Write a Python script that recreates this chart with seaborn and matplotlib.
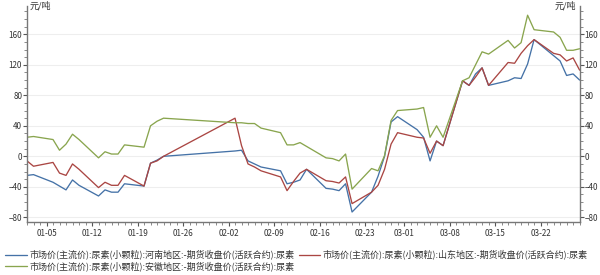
import seaborn as sns
import pandas as pd
import matplotlib
matplotlib.use("Agg")
from matplotlib import pyplot as plt
import matplotlib.dates as mdates
from matplotlib.ticker import MultipleLocator

# trading days
dates = ["2025-01-02", "2025-01-03", "2025-01-06", "2025-01-07", "2025-01-08", "2025-01-09", "2025-01-10",
         "2025-01-13", "2025-01-14", "2025-01-15", "2025-01-16", "2025-01-17",
         "2025-01-20", "2025-01-21", "2025-01-22", "2025-01-23",
         "2025-02-03", "2025-02-04", "2025-02-05", "2025-02-06", "2025-02-07",
         "2025-02-10", "2025-02-11", "2025-02-12", "2025-02-13", "2025-02-14",
         "2025-02-17", "2025-02-18", "2025-02-19", "2025-02-20", "2025-02-21",
         "2025-02-24", "2025-02-25", "2025-02-26", "2025-02-27", "2025-02-28",
         "2025-03-03", "2025-03-04", "2025-03-05", "2025-03-06", "2025-03-07",
         "2025-03-10", "2025-03-11", "2025-03-12", "2025-03-13", "2025-03-14",
         "2025-03-17", "2025-03-18", "2025-03-19", "2025-03-20", "2025-03-21",
         "2025-03-24", "2025-03-25", "2025-03-26", "2025-03-27", "2025-03-28"]

henan = [-25, -24, -34, -39, -44, -31, -38,
         -52, -44, -47, -47, -36,
         -39, -9, -5, 0,
         7, 8, -6, -10, -14,
         -19, -36, -34, -31, -17,
         -42, -43, -45, -36, -73,
         -47, -26, 0, 45, 52,
         35, 25, -6, 20, 14,
         99, 93, 108, 116, 93,
         99, 103, 102, 121, 153,
         132, 125, 106, 108, 100]

shandong = [-6, -13, -8, -22, -25, -10, -17,
            -41, -34, -38, -38, -25,
            -39, -9, -6, 0,
            50, 14, -10, -14, -19,
            -27, -45, -33, -22, -17,
            -32, -33, -35, -27, -62,
            -47, -38, -17, 16, 31,
            25, 24, 4, 20, 14,
            99, 93, 104, 116, 93,
            123, 122, 135, 145, 153,
            135, 133, 125, 129, 113]

anhui = [25, 26, 22, 8, 16, 29, 22,
         -2, 6, 3, 3, 15,
         12, 40, 46, 50,
         44, 44, 43, 43, 37,
         31, 15, 15, 18, 13,
         -2, -3, -6, 3, -43,
         -16, -19, 1, 47, 60,
         62, 64, 25, 40, 25,
         99, 103, 120, 137, 134,
         152, 142, 149, 185, 166,
         163, 156, 139, 139, 141]

names = ["市场价(主流价):尿素(小颗粒):河南地区:-期货收盘价(活跃合约):尿素",
         "市场价(主流价):尿素(小颗粒):山东地区:-期货收盘价(活跃合约):尿素",
         "市场价(主流价):尿素(小颗粒):安徽地区:-期货收盘价(活跃合约):尿素"]
colors = ["#4572A7", "#AA4643", "#89A54E"]

tick_dates = ["2025-01-05", "2025-01-12", "2025-01-19", "2025-01-26", "2025-02-02", "2025-02-09",
              "2025-02-16", "2025-02-23", "2025-03-01", "2025-03-08", "2025-03-15", "2025-03-22"]

df = pd.DataFrame({"date": pd.to_datetime(dates), names[0]: henan, names[1]: shandong, names[2]: anhui})
df = df.melt(id_vars="date", var_name="series", value_name="value")

sns.set_style("white")
plt.rcParams["font.family"] = ["Noto Sans CJK SC", "DejaVu Sans"]

fig, ax = plt.subplots(figsize=(6, 2.75), dpi=100)
fig.subplots_adjust(left=0.045, right=0.966, bottom=0.193, top=0.978)

sns.lineplot(data=df, x="date", y="value", hue="series", palette=colors, linewidth=0.95, ax=ax)

ax.set_xlim(pd.Timestamp(dates[0]), pd.Timestamp(dates[-1]))
ax.set_ylim(-86, 197)
ax.set_xlabel("")
ax.set_ylabel("")

ax.set_xticks(pd.to_datetime(tick_dates))
ax.xaxis.set_major_formatter(mdates.DateFormatter("%m-%d"))
ax.xaxis.set_minor_locator(mdates.DayLocator())
ax.yaxis.set_major_locator(MultipleLocator(40))
ax.yaxis.set_minor_locator(MultipleLocator(10))

ax.grid(axis="y", color="#eeeeee", linewidth=0.8)
ax.set_axisbelow(True)
for side in ["left", "right", "bottom"]:
    ax.spines[side].set_color("#777777")
    ax.spines[side].set_linewidth(1.0)
ax.spines["top"].set_visible(False)

ax.tick_params(axis="both", which="major", labelsize=5.8, colors="#555555", labelcolor="#333333", length=3, width=0.8)
ax.tick_params(axis="both", which="minor", colors="#777777", length=2, width=0.6)
ax.tick_params(axis="y", which="both", left=True, right=True, labelleft=True, labelright=True, pad=0.5)
ax.tick_params(axis="x", which="both", bottom=True, pad=2)

ax.text(0.004, 1.0, "元/吨", transform=ax.transAxes, ha="left", va="center", fontsize=6.5, color="#333333")
ax.text(0.993, 1.0, "元/吨", transform=ax.transAxes, ha="right", va="center", fontsize=6.5, color="#333333")

# row-major order like the reference legend
handles, labels = ax.get_legend_handles_labels()
ax.get_legend().remove()
order = [0, 2, 1]
fig.legend([handles[i] for i in order], [labels[i] for i in order], ncol=2, loc="lower left",
           bbox_to_anchor=(0.0, -0.005), frameon=False,
           fontsize=6.5, handlelength=2.4, handletextpad=0.3, columnspacing=0.4, labelspacing=0.15,
           borderaxespad=0.2, labelcolor="#333333")

plt.savefig("out.png", dpi=100)
